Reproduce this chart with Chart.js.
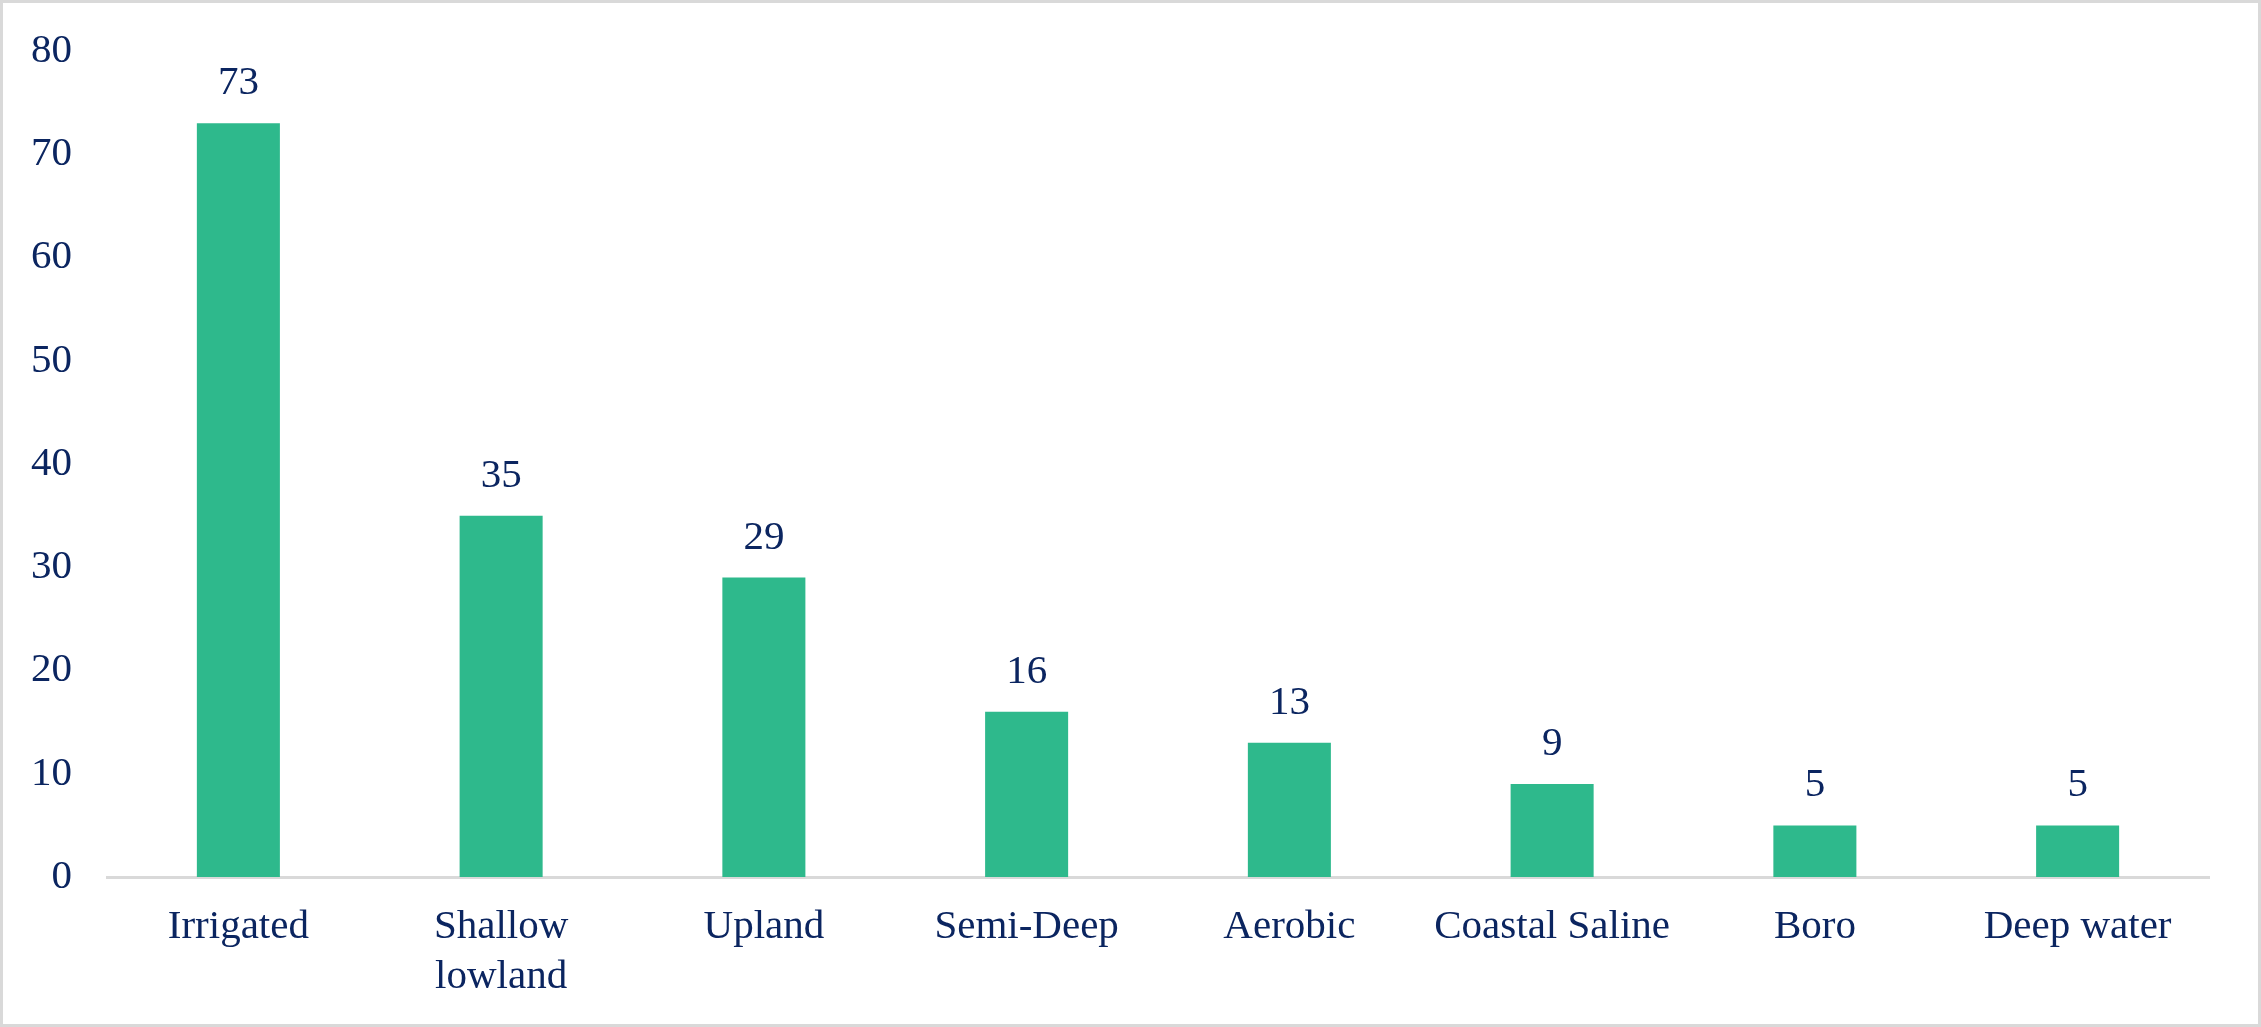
<!DOCTYPE html>
<html>
<head>
<meta charset="utf-8">
<script src="https://cdn.jsdelivr.net/npm/chart.js@4.4.1/dist/chart.umd.min.js"></script>
<style>
    html, body { margin: 0; padding: 0; background: #ffffff; }
    #wrap { width: 2261px; height: 1027px; position: relative; }
</style>
</head>
<body>
<div id="wrap"><canvas id="ecoChart" width="2261" height="1027"></canvas></div>
<script>
// Categories and values
var categories = ['Irrigated', ['Shallow', 'lowland'], 'Upland', 'Semi-Deep', 'Aerobic', 'Coastal Saline', 'Boro', 'Deep water'];
var counts = [73, 35, 29, 16, 13, 9, 5, 5];
var yTicks = [0, 10, 20, 30, 40, 50, 60, 70, 80];

var textColor = '#0b2560';
var barColor = '#2eb98c';
var lineColor = '#d9d9d9';
var fontFamily = '"Liberation Serif", "Times New Roman", serif';

// Frame round the whole picture
var framePlugin = {
    id: 'frame',
    beforeDraw: function(chart) {
        var ctx = chart.ctx;
        ctx.save();
        ctx.fillStyle = '#ffffff';
        ctx.fillRect(0, 0, chart.width, chart.height);
        ctx.strokeStyle = lineColor;
        ctx.lineWidth = 3;
        ctx.strokeRect(1.5, 1.5, chart.width - 3, chart.height - 3);
        ctx.restore();
    }
};

// Value labels above the bars
var valueLabels = {
    id: 'valueLabels',
    afterDatasetsDraw: function(chart) {
        var ctx = chart.ctx;
        var meta = chart.getDatasetMeta(0);
        ctx.save();
        ctx.fillStyle = textColor;
        ctx.font = '41px ' + fontFamily;
        ctx.textAlign = 'center';
        ctx.textBaseline = 'alphabetic';
        meta.data.forEach(function(bar, i) {
            ctx.fillText(String(counts[i]), bar.x, bar.y - 29);
        });
        ctx.restore();
    }
};

var ctx = document.getElementById('ecoChart').getContext('2d');
var ecoChart = new Chart(ctx, {
    type: 'bar',
    data: {
        labels: categories,
        datasets: [{
            data: counts,
            backgroundColor: barColor,
            borderWidth: 0,
            barPercentage: 1,
            categoryPercentage: 0.316
        }]
    },
    options: {
        responsive: false,
        animation: false,
        layout: {
            padding: { top: 51, right: 52, bottom: 0, left: 0 }
        },
        plugins: {
            legend: { display: false },
            tooltip: { enabled: false }
        },
        scales: {
            x: {
                grid: { display: false, drawTicks: false },
                border: { display: true, color: lineColor, width: 3 },
                ticks: {
                    color: textColor,
                    font: { family: fontFamily, size: 41, lineHeight: 1.2 },
                    padding: 26,
                    maxRotation: 0,
                    autoSkip: false
                },
                afterFit: function(scale) { scale.height = 150; }
            },
            y: {
                min: 0,
                max: 80,
                afterBuildTicks: function(scale) {
                    scale.ticks = yTicks.map(function(v) { return { value: v }; });
                },
                grid: { display: false, drawTicks: false },
                border: { display: false },
                ticks: {
                    color: textColor,
                    font: { family: fontFamily, size: 41 },
                    padding: 35
                },
                afterFit: function(scale) {
                    scale.width = 107;
                    scale.paddingTop = 0;
                    scale.paddingBottom = 0;
                }
            }
        }
    },
    plugins: [framePlugin, valueLabels]
});
</script>
</body>
</html>
